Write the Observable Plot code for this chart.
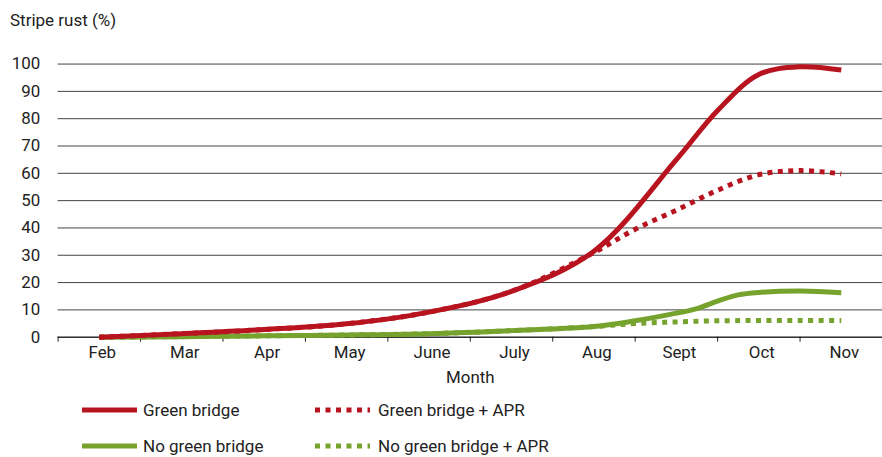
<!DOCTYPE html>
<html>
<head>
<meta charset="utf-8">
<script src="https://cdn.jsdelivr.net/npm/d3@7"></script>
<script src="https://cdn.jsdelivr.net/npm/@observablehq/plot@0.6"></script>
<style>
  html, body { margin: 0; padding: 0; background: #fff; overflow: hidden; width: 882px; height: 457px; }
  #wrap { position: relative; width: 882px; height: 457px; overflow: hidden; font-family: Roboto, "Noto Sans", sans-serif; color: #222; }
  #title { position: absolute; left: 10px; top: 10px; font-size: 17px; line-height: 20px; }
  #chart { position: absolute; left: 0; top: 0; }
  #legend { position: absolute; left: 0; top: 392px; width: 882px; font-size: 17px; }
  .item { position: absolute; top: 0; display: flex; align-items: center; height: 24px; }
  .item svg { display: block; }
</style>
</head>
<body>
<div id="wrap">
  <div id="chart"></div>
  <div id="title">Stripe rust (%)</div>
  <div id="legend"></div>
</div>
<script>
// ---- data (month index: 0 = Feb ... 9 = Nov) ----
const months = ["Feb", "Mar", "Apr", "May", "June", "July", "Aug", "Sept", "Oct", "Nov"];
const yTicks = [0, 10, 20, 30, 40, 50, 60, 70, 80, 90, 100];

const greenBridgeX   = [0, 1, 2, 3, 4, 5, 6, 7, 7.5, 8, 8.5, 9];
const greenBridgeY   = [0, 1.3, 2.8, 4.9, 9.2, 16.8, 31.5, 65, 83, 96.2, 99, 97.8];

const greenBridgeAprX = [0, 1, 2, 3, 4, 5, 6, 6.5, 7, 7.5, 8, 8.5, 9];
const greenBridgeAprY = [0, 1.3, 2.8, 4.9, 9.2, 16.8, 31, 39.5, 46.5, 53.8, 59.5, 61, 59.8];

const noGreenBridgeX = [0, 1, 2, 3, 4, 5, 6, 6.5, 7, 7.25, 7.5, 7.75, 8, 8.5, 9];
const noGreenBridgeY = [0, 0.2, 0.5, 0.8, 1.3, 2.4, 3.9, 6.0, 8.8, 10.5, 13.2, 15.5, 16.4, 16.9, 16.3];

const noGreenBridgeAprX = [0, 1, 2, 3, 4, 5, 6, 6.5, 7, 7.5, 8, 8.5, 9];
const noGreenBridgeAprY = [0, 0.2, 0.5, 0.8, 1.3, 2.4, 3.9, 5.0, 5.6, 6.0, 6.1, 6.1, 6.1];

const seriesNames = ["Green bridge", "Green bridge + APR", "No green bridge", "No green bridge + APR"];
const RED = "#B8141F";
const GREEN = "#76A22E";

// ---- build tables ----
const toRows = (xs, ys) => xs.map((x, i) => ({x, y: ys[i]}));
const series = [
  {name: seriesNames[0], rows: toRows(greenBridgeX, greenBridgeY), color: RED, dash: null},
  {name: seriesNames[1], rows: toRows(greenBridgeAprX, greenBridgeAprY), color: RED, dash: "5,5.5"},
  {name: seriesNames[2], rows: toRows(noGreenBridgeX, noGreenBridgeY), color: GREEN, dash: null},
  {name: seriesNames[3], rows: toRows(noGreenBridgeAprX, noGreenBridgeAprY), color: GREEN, dash: "5,5.5"}
];
const bandEdges = d3.range(0, months.length + 1).map(i => i - 0.5);
const monthIdx = d3.range(months.length);

const lineMarks = [];
// draw green first, red on top
[2, 3, 0, 1].forEach(k => {
  const s = series[k];
  lineMarks.push(Plot.line(s.rows, {
    x: "x", y: "y", stroke: s.color, strokeWidth: 5,
    curve: "catmull-rom", strokeLinecap: "butt",
    strokeDasharray: s.dash || undefined
  }));
});

const chart = Plot.plot({
  width: 888,
  height: 392,
  marginLeft: 58,
  marginRight: 0,
  marginTop: 64,
  marginBottom: 53,
  style: {fontFamily: "Roboto, 'Noto Sans', sans-serif", fontSize: "17px", color: "#222", background: "transparent", overflow: "visible"},
  x: {type: "linear", domain: [-0.5, months.length - 0.5]},
  y: {domain: [0, 100]},
  marks: [
    Plot.gridY(yTicks, {stroke: "#222", strokeOpacity: 0.85, strokeWidth: 1}),
    Plot.axisY(yTicks, {tickSize: 0, tickPadding: 18, label: null, fontSize: 17}),
    Plot.axisX(bandEdges, {tickSize: 5, tickFormat: () => "", label: null, stroke: "#222"}),
    Plot.axisX(monthIdx, {tickSize: 0, tickPadding: 9, tickFormat: i => months[i], dx: 3, fontSize: 17,
      label: "Month", labelAnchor: "center", labelArrow: "none", labelOffset: 46}),
    Plot.ruleY([0], {stroke: "#111", strokeWidth: 1}),
    ...lineMarks
  ]
});
document.getElementById("chart").appendChild(chart);

// ---- legend ----
const legend = d3.select("#legend");
const layout = [
  {k: 0, row: 0, left: 82}, {k: 1, row: 0, left: 315},
  {k: 2, row: 1, left: 82}, {k: 3, row: 1, left: 315}
];
layout.forEach(({k, row, left}) => {
  const s = series[k];
  const item = legend.append("div").attr("class", "item")
    .style("left", left + "px").style("top", (6 + row * 36) + "px");
  const sv = item.append("svg").attr("width", 55).attr("height", 10);
  sv.append("line").attr("x1", 0).attr("x2", 55).attr("y1", 5).attr("y2", 5)
    .attr("stroke", s.color).attr("stroke-width", 5)
    .attr("stroke-dasharray", s.dash);
  item.append("span").style("margin-left", s.dash ? "8px" : "6px").text(s.name);
});
</script>
</body>
</html>
